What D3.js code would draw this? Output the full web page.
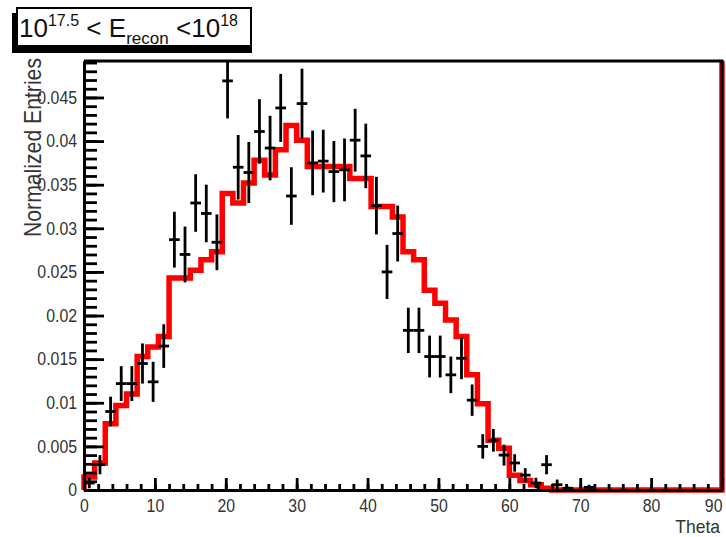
<!DOCTYPE html>
<html>
<head>
<meta charset="utf-8">
<script src="https://cdn.jsdelivr.net/npm/d3@7/dist/d3.min.js"></script>
<style>
  html, body { margin: 0; padding: 0; background: #fff; }
  svg { display: block; font-family: "Liberation Sans", Arial, Helvetica, sans-serif; }
</style>
</head>
<body>
<svg id="chart" width="726" height="537"></svg>
<script>
// Zenith angle bins (degrees), 1.5 degree wide
const binLowEdges = [
  0, 1.5, 3, 4.5, 6, 7.5, 9, 10.5, 12, 13.5,
  15, 16.5, 18, 19.5, 21, 22.5, 24, 25.5, 27, 28.5,
  30, 31.5, 33, 34.5, 36, 37.5, 39, 40.5, 42, 43.5,
  45, 46.5, 48, 49.5, 51, 52.5, 54, 55.5, 57, 58.5,
  60, 61.5, 63, 64.5, 66, 67.5, 69, 70.5, 72, 73.5,
  75, 76.5, 78, 79.5, 81, 82.5, 84, 85.5, 87, 88.5
];
const binWidth = 1.5;

// Simulated distribution (red histogram)
const simValues = [
  0.0015, 0.0031, 0.0076, 0.0097, 0.0110, 0.0153, 0.0164, 0.0176, 0.0243, 0.0243,
  0.0252, 0.0264, 0.0273, 0.0340, 0.0329, 0.0352, 0.0378, 0.0361, 0.0390, 0.0418,
  0.0401, 0.0371, 0.0371, 0.0371, 0.0371, 0.0357, 0.0357, 0.0325, 0.0325, 0.0313,
  0.0273, 0.0264, 0.0229, 0.0214, 0.0195, 0.0176, 0.0132, 0.0099, 0.0057, 0.0048,
  0.0017, 0.0011, 0.0006, 0.0002, 0, 0, 0, 0, 0, 0,
  0, 0, 0, 0, 0, 0, 0, 0, 0, 0
];

// Measured distribution (black points) and its statistical errors
const dataValues = [
  0.0008, 0.0029, 0.0090, 0.0122, 0.0122, 0.0145, 0.0124, 0.0165, 0.0287, 0.0270,
  0.0329, 0.0317, 0.0284, 0.0469, 0.0370, 0.0364, 0.0411, 0.0392, 0.0438, 0.0337,
  0.0443, 0.0375, 0.0377, 0.0365, 0.0367, 0.0401, 0.0383, 0.0326, 0.0250, 0.0294,
  0.0183, 0.0183, 0.0153, 0.0153, 0.0132, 0.0151, 0.0103, 0.0050, 0.0057, 0.0040,
  0.0031, 0.0017, 0.0008, 0.0029, 0.0006, 0.0002, 0, 0.0003, 0, 0,
  0, 0, 0, 0, 0, 0, 0, 0, 0, 0
];
const dataErrors = [
  0.0006, 0.0011, 0.0017, 0.0020, 0.0020, 0.0023, 0.0023, 0.0025, 0.0032, 0.0032,
  0.0033, 0.0033, 0.0032, 0.0043, 0.0037, 0.0035, 0.0037, 0.0037, 0.0039, 0.0033,
  0.0040, 0.0037, 0.0036, 0.0035, 0.0036, 0.0036, 0.0037, 0.0033, 0.0031, 0.0032,
  0.0026, 0.0026, 0.0024, 0.0024, 0.0021, 0.0024, 0.0018, 0.0014, 0.0013, 0.0012,
  0.0010, 0.0008, 0.0006, 0.0011, 0.0006, 0.0002, 0, 0.0003, 0, 0,
  0, 0, 0, 0, 0, 0, 0, 0, 0, 0
];

const xTickValues = [0, 10, 20, 30, 40, 50, 60, 70, 80, 90];
const xTickLabels = ["0", "10", "20", "30", "40", "50", "60", "70", "80", "90"];
const yTickValues = [0, 0.005, 0.01, 0.015, 0.02, 0.025, 0.03, 0.035, 0.04, 0.045];
const yTickLabels = ["0", "0.005", "0.01", "0.015", "0.02", "0.025", "0.03", "0.035", "0.04", "0.045"];
const xTitle = "Theta";
const yTitle = "Normalized Entries";

const xDomain = [0, 90];
const yDomain = [0, 0.04918];

// ---------------------------------------------------------------
const svg = d3.select("#chart");
const frame = { left: 84, right: 722, top: 61, bottom: 490 };

const x = d3.scaleLinear().domain(xDomain).range([frame.left, frame.right]);
const y = d3.scaleLinear().domain(yDomain).range([frame.bottom, frame.top]);

svg.append("rect").attr("width", 726).attr("height", 537).attr("fill", "#fff");

svg.append("defs").append("clipPath").attr("id", "plotClip")
  .append("rect")
  .attr("x", frame.left).attr("y", frame.top)
  .attr("width", frame.right - frame.left).attr("height", frame.bottom - frame.top);

// Squeeze glyphs horizontally to get the narrow Helvetica look
function condense(sel, factor) {
  sel.each(function () {
    const len = this.getComputedTextLength();
    if (len > 0) {
      d3.select(this).attr("textLength", len * factor).attr("lengthAdjust", "spacingAndGlyphs");
    }
  });
}

// --- red simulated histogram (step outline) ---
const simPts = [[x(xDomain[0]), y(0)]];
binLowEdges.forEach((lo, i) => {
  simPts.push([x(lo), y(simValues[i])]);
  simPts.push([x(lo + binWidth), y(simValues[i])]);
});
simPts.push([x(xDomain[1]), y(0)]);
simPts.push([x(xDomain[1]), y(yDomain[1])]);

svg.append("path")
  .attr("d", d3.line()(simPts))
  .attr("fill", "none")
  .attr("stroke", "#ff0000")
  .attr("stroke-width", 5.5)
  .attr("stroke-linejoin", "miter");

// --- black data points with error bars ---
const pts = svg.append("g").attr("clip-path", "url(#plotClip)")
  .attr("stroke", "#000").attr("stroke-width", 2.8).attr("fill", "none");

binLowEdges.forEach((lo, i) => {
  const v = dataValues[i];
  if (v <= 0) return;
  const e = dataErrors[i];
  const cx = x(lo + binWidth / 2);
  pts.append("line")
    .attr("x1", cx).attr("x2", cx)
    .attr("y1", y(Math.max(0, v - e))).attr("y2", y(v + e));
  pts.append("line")
    .attr("x1", x(lo)).attr("x2", x(lo + binWidth))
    .attr("y1", y(v)).attr("y2", y(v));
});

// --- axes ---
const axisFont = 18;

const yAxis = d3.axisLeft(y)
  .tickValues(yTickValues)
  .tickFormat((d, i) => yTickLabels[i])
  .tickSizeInner(-20).tickSizeOuter(0).tickPadding(7);
const yMinor = d3.axisLeft(y)
  .tickValues(d3.range(0, yDomain[1], 0.001))
  .tickFormat("")
  .tickSizeInner(-13).tickSizeOuter(0);

const gyMinor = svg.append("g").attr("transform", `translate(${frame.left},0)`).call(yMinor);
const gy = svg.append("g").attr("transform", `translate(${frame.left},0)`).call(yAxis);

const xAxis = d3.axisBottom(x)
  .tickValues(xTickValues)
  .tickFormat((d, i) => xTickLabels[i])
  .tickSizeInner(-12).tickSizeOuter(0).tickPadding(9);
const xMinor = d3.axisBottom(x)
  .tickValues(d3.range(0, 90, 2))
  .tickFormat("")
  .tickSizeInner(-6).tickSizeOuter(0);

const gxMinor = svg.append("g").attr("transform", `translate(0,${frame.bottom})`).call(xMinor);
const gx = svg.append("g").attr("transform", `translate(0,${frame.bottom})`).call(xAxis);

[gy, gyMinor, gx, gxMinor].forEach(g => {
  g.selectAll("line").attr("stroke", "#000").attr("stroke-width", 2.8);
  g.select(".domain").attr("stroke", "#000").attr("stroke-width", 3);
});
[gy, gx].forEach(g => {
  g.selectAll("text")
    .attr("font-size", axisFont)
    .attr("font-family", '"Liberation Sans", Arial, sans-serif')
    .attr("fill", "#333");
  condense(g.selectAll("text"), 0.88);
});
// the last x label sits against the page edge: keep it inside
gx.selectAll("text").filter((d, i) => i === xTickValues.length - 1)
  .attr("text-anchor", "end").attr("x", 0);

// frame top and right edges
svg.append("path")
  .attr("d", d3.line()([[x(xDomain[0]), y(yDomain[1])], [x(xDomain[1]), y(yDomain[1])], [x(xDomain[1]), y(0)]]))
  .attr("fill", "none").attr("stroke", "#000").attr("stroke-width", 3);

// --- axis titles ---
const yT = svg.append("text")
  .attr("transform", `translate(41,${frame.top - 3}) rotate(-90)`)
  .attr("text-anchor", "end")
  .attr("font-size", 24)
  .attr("fill", "#333")
  .text(yTitle);
yT.attr("textLength", 179).attr("lengthAdjust", "spacingAndGlyphs");

const xT = svg.append("text")
  .attr("x", frame.right - 2).attr("y", 533)
  .attr("text-anchor", "end")
  .attr("font-size", 19)
  .attr("fill", "#333")
  .text(xTitle);
condense(xT, 0.92);

// --- title box ---
const tb = svg.append("g");
tb.append("rect").attr("x", 12).attr("y", 13).attr("width", 240).attr("height", 40).attr("fill", "#000");
tb.append("rect").attr("x", 17).attr("y", 8).attr("width", 234).attr("height", 38)
  .attr("fill", "#fff").attr("stroke", "#000").attr("stroke-width", 2);

const title = tb.append("text").attr("x", 19).attr("y", 37).attr("font-size", 26).attr("fill", "#111");
title.append("tspan").text("10");
title.append("tspan").attr("font-size", 16).attr("dy", -11).text("17.5");
title.append("tspan").attr("dy", 11).text(" < E");
title.append("tspan").attr("font-size", 17).attr("dy", 7).text("recon");
title.append("tspan").attr("dy", -7).text(" <10");
title.append("tspan").attr("font-size", 16).attr("dy", -11).text("18");
title.attr("textLength", 219).attr("lengthAdjust", "spacingAndGlyphs");
</script>
</body>
</html>
